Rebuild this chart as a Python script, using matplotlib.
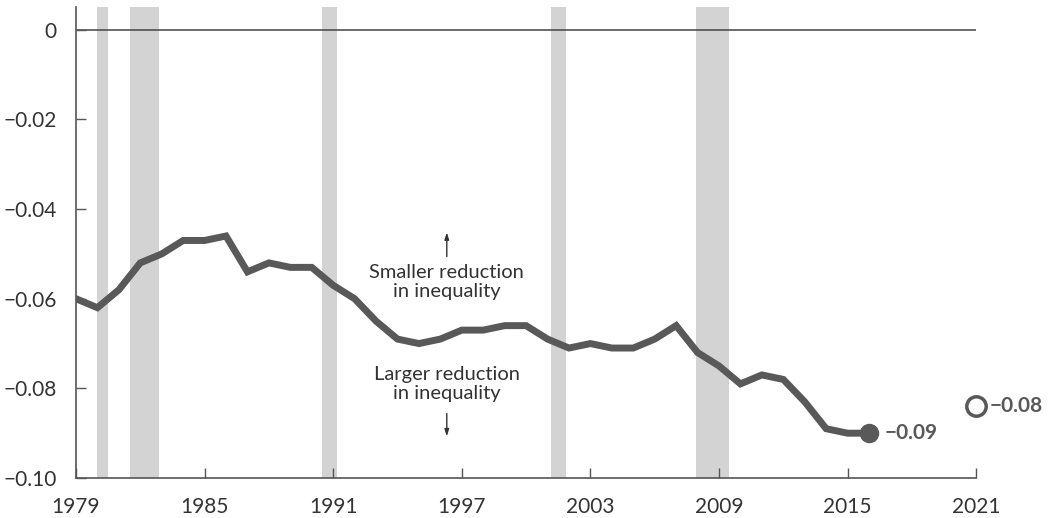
import matplotlib
matplotlib.use('Agg')
import matplotlib.pyplot as plt

# Values
years = list(range(1979, 2017))
values = [-0.060, -0.062, -0.058, -0.052, -0.050, -0.047, -0.047, -0.046,
          -0.054, -0.052, -0.053, -0.053, -0.057, -0.060, -0.065, -0.069,
          -0.070, -0.069, -0.067, -0.067, -0.066, -0.066, -0.069, -0.071,
          -0.070, -0.071, -0.071, -0.069, -0.066, -0.072, -0.075, -0.079,
          -0.077, -0.078, -0.083, -0.089, -0.090, -0.090]
projection_year = 2021
projection_value = -0.084
last_label = "\u22120.09"
projection_label = "\u22120.08"

# recession periods (start, end) in fractional years
recessions = [(1980.0, 1980.5), (1981.5, 1982.87), (1990.5, 1991.2),
              (2001.17, 2001.87), (2007.92, 2009.46)]

xticks = [1979, 1985, 1991, 1997, 2003, 2009, 2015, 2021]
yticks = [0, -0.02, -0.04, -0.06, -0.08, -0.10]
ytick_labels = ["0", "\u22120.02", "\u22120.04", "\u22120.06", "\u22120.08", "\u22120.10"]

LINE = '#595959'
TEXT = '#333333'
BAND = '#d3d3d3'

plt.rcParams['font.family'] = ['Lato', 'DejaVu Sans']

fig = plt.figure(figsize=(10.48, 5.18), dpi=100)
ax = fig.add_axes([0.0725, 0.0772, 0.859, 0.9093])

for start, end in recessions:
    ax.axvspan(start, end, color=BAND, lw=0, zorder=0)

ax.axhline(0, color='#444444', lw=1.1, zorder=1)

ax.plot(years, values, color=LINE, lw=5, solid_joinstyle='miter', zorder=3)
ax.plot(years[-1], values[-1], 'o', color=LINE, ms=13, zorder=4, clip_on=False)
ax.plot(projection_year, projection_value, 'o', mfc='white', mec=LINE,
        mew=2.5, ms=14, zorder=4, clip_on=False)

ax.annotate(last_label, (years[-1], values[-1]), xytext=(11, 0),
            textcoords='offset points', va='center', ha='left',
            fontsize=15, fontweight='bold', color=LINE)
ax.annotate(projection_label, (projection_year, projection_value), xytext=(10, 0),
            textcoords='offset points', va='center', ha='left',
            fontsize=15, fontweight='bold', color=LINE, annotation_clip=False)

# direction notes
ax.text(1996.3, -0.0562, "Smaller reduction\nin inequality", ha='center', va='center',
        fontsize=14.5, color=TEXT, linespacing=1.15)
ax.text(1996.3, -0.0791, "Larger reduction\nin inequality", ha='center', va='center',
        fontsize=14.5, color=TEXT, linespacing=1.15)
ax.annotate("", xy=(1996.3, -0.0452), xytext=(1996.3, -0.0506),
            arrowprops=dict(arrowstyle='-|>,head_length=0.4,head_width=0.13',
                            color=TEXT, lw=1, shrinkA=0, shrinkB=0))
ax.annotate("", xy=(1996.3, -0.0907), xytext=(1996.3, -0.0856),
            arrowprops=dict(arrowstyle='-|>,head_length=0.4,head_width=0.13',
                            color=TEXT, lw=1, shrinkA=0, shrinkB=0))

ax.set_xlim(1979, 2021)
ax.set_ylim(-0.10, 0.0051)
ax.set_xticks(xticks)
ax.set_yticks(yticks)
ax.set_yticklabels(ytick_labels)

for side in ['top', 'right']:
    ax.spines[side].set_visible(False)
for side in ['left', 'bottom']:
    ax.spines[side].set_color('#555555')
    ax.spines[side].set_linewidth(1.2)

ax.tick_params(axis='both', direction='in', length=7, width=1, color='#555555',
               labelsize=15, labelcolor=TEXT)
ax.tick_params(axis='x', pad=14)
ax.tick_params(axis='y', pad=14)

fig.savefig('out.png', dpi=100)
